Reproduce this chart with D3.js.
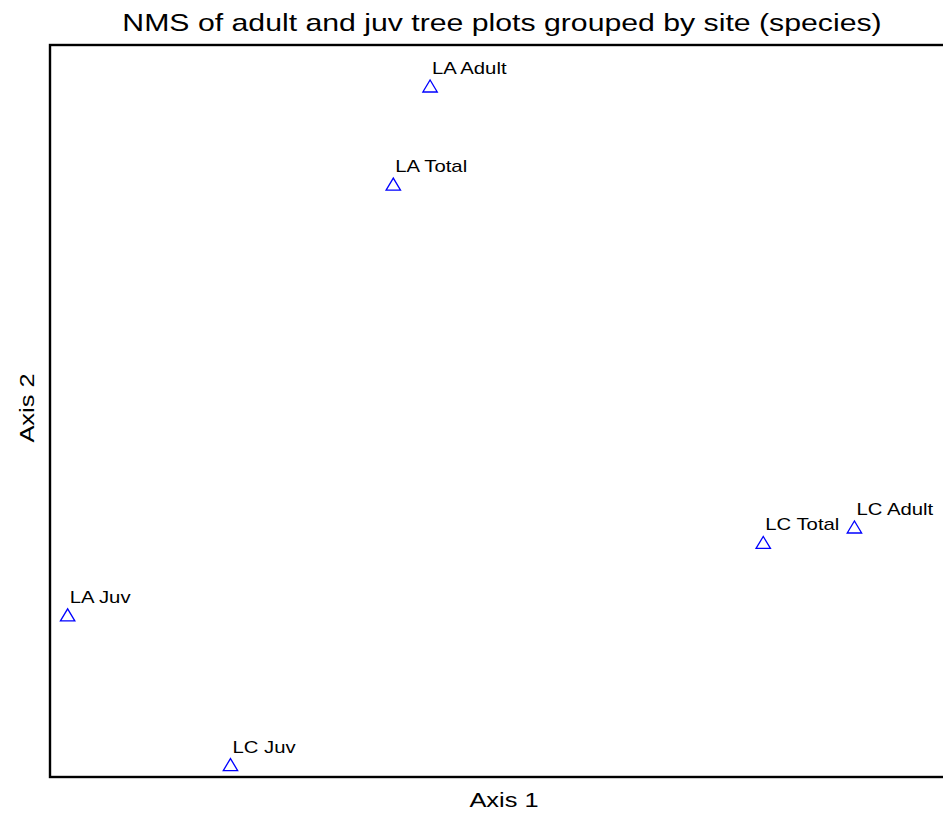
<!DOCTYPE html>
<html>
<head>
<meta charset="utf-8">
<script src="https://cdn.jsdelivr.net/npm/d3@7"></script>
<style>
  html, body { margin: 0; padding: 0; background: #fff; }
  svg { display: block; }
  text { font-family: "Liberation Sans", Arial, sans-serif; fill: #000; }
</style>
</head>
<body>
<script>
// ---- data (NMS ordination scores) ----
const labels = ["LA Adult", "LA Total", "LA Juv", "LC Juv", "LC Total", "LC Adult"];
const axis1  = [-0.187, -0.285, -1.153, -0.719, 0.701, 0.944];
const axis2  = [ 0.888,  0.620, -0.557, -0.966, -0.359, -0.317];
const titleText = "NMS of adult and juv tree plots grouped by site (species)";
const xTitle = "Axis 1";
const yTitle = "Axis 2";

const W = 943, H = 816;
const margin = { left: 50, top: 45, right: -45, bottom: 39 };
const svg = d3.select("body").append("svg").attr("width", W).attr("height", H);

const x = d3.scaleLinear().domain([-1.2, 1.3]).range([margin.left, W - margin.right]);
const y = d3.scaleLinear().domain([-1.0, 1.0]).range([H - margin.bottom, margin.top]);

const pts = labels.map((l, i) => ({ label: l, x: axis1[i], y: axis2[i] }));

// frame (right edge lies outside the window)
svg.append("rect")
  .attr("x", x.range()[0]).attr("y", y.range()[1])
  .attr("width", x.range()[1] - x.range()[0])
  .attr("height", y.range()[0] - y.range()[1])
  .attr("fill", "none").attr("stroke", "#000").attr("stroke-width", 2.4);

const SX = 1.27; // horizontal stretch of the original typography

// title
svg.append("text")
  .attr("transform", `translate(502,31) scale(1.26,1)`)
  .attr("text-anchor", "middle")
  .style("font-size", "24px")
  .text(titleText);

// axis titles
svg.append("text")
  .attr("transform", `translate(504,807) scale(${SX},1)`)
  .attr("text-anchor", "middle")
  .style("font-size", "20px")
  .text(xTitle);

svg.append("text")
  .attr("transform", `translate(34,408) rotate(-90) scale(${SX},1)`)
  .attr("text-anchor", "middle")
  .style("font-size", "20px")
  .text(yTitle);

// markers: open blue triangles
const g = svg.append("g");
g.selectAll("path.pt").data(pts).enter().append("path")
  .attr("class", "pt")
  .attr("d", d => {
    const cx = x(d.x), cy = y(d.y);
    return `M${cx - 7.2},${cy + 6} L${cx},${cy - 6} L${cx + 7.2},${cy + 6} Z`;
  })
  .attr("fill", "none").attr("stroke", "#0000ff").attr("stroke-width", 1.3);

// point labels
g.selectAll("text.lbl").data(pts).enter().append("text")
  .attr("class", "lbl")
  .attr("transform", d => `translate(${x(d.x) + 2},${y(d.y) - 12}) scale(${SX},1)`)
  .style("font-size", "16px")
  .text(d => d.label);
</script>
</body>
</html>
